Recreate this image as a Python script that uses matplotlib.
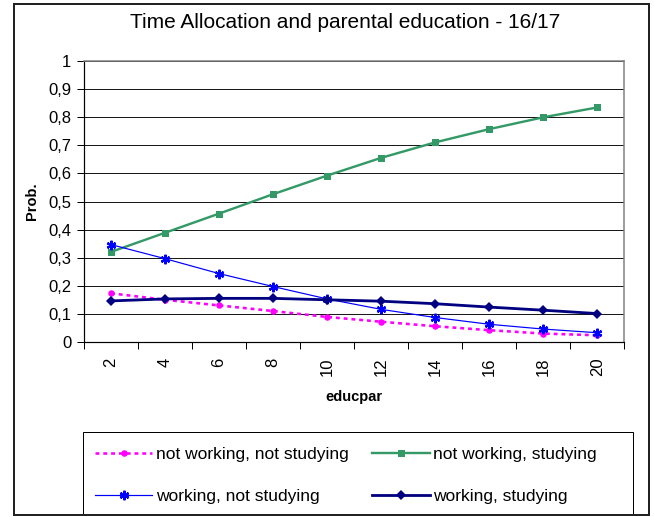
import matplotlib
matplotlib.use("Agg")
import matplotlib.pyplot as plt
from matplotlib.patches import Rectangle

plt.rcParams['font.family'] = ['Liberation Sans', 'DejaVu Sans']

# Data
educpar = [2, 4, 6, 8, 10, 12, 14, 16, 18, 20]
not_working_not_studying = [0.174, 0.151, 0.131, 0.111, 0.090, 0.073, 0.057, 0.043, 0.031, 0.025]
not_working_studying = [0.321, 0.389, 0.457, 0.526, 0.592, 0.655, 0.710, 0.757, 0.799, 0.834]
working_not_studying = [0.347, 0.297, 0.244, 0.198, 0.154, 0.117, 0.088, 0.064, 0.047, 0.034]
working_studying = [0.147, 0.154, 0.156, 0.156, 0.151, 0.146, 0.137, 0.125, 0.114, 0.102]
yticks = [0, 0.1, 0.2, 0.3, 0.4, 0.5, 0.6, 0.7, 0.8, 0.9, 1.0]
ytick_labels = ['0', '0,1', '0,2', '0,3', '0,4', '0,5', '0,6', '0,7', '0,8', '0,9', '1']

W, H = 654, 517
fig = plt.figure(figsize=(W / 100, H / 100), dpi=100)
px = 0.72  # one pixel in points

# Plot area in pixel coordinates
left, right, top, bottom = 84, 624.3, 60.7, 342.3
ax = fig.add_axes([left / W, 1 - bottom / H, (right - left) / W, (bottom - top) / H])

x = list(range(len(educpar)))

l1, = ax.plot(x, not_working_not_studying, color='#FF00FF', linestyle=(0, (1.5, 1.5)),
              linewidth=2.6 * px, marker='o', markersize=6.5 * px, markeredgewidth=0,
              label='not working, not studying', zorder=3)
l2, = ax.plot(x, not_working_studying, color='#339966', linewidth=2.4 * px,
              marker='s', markersize=7 * px, markeredgewidth=0,
              label='not working, studying', zorder=4)
l3, = ax.plot(x, working_not_studying, color='#0000FF', linewidth=1.2 * px,
              marker=(6, 2, 0), markersize=9.5 * px, markeredgewidth=2.2 * px,
              label='working, not studying', zorder=5)
l4, = ax.plot(x, working_studying, color='#000080', linewidth=2.8 * px,
              marker='D', markersize=7 * px, markeredgewidth=0,
              label='working, studying', zorder=6)

ax.set_xlim(-0.5, len(educpar) - 0.5)
ax.set_ylim(0, 1)

# Category axis: ticks between categories, labels centred on them
ax.set_xticks([i - 0.5 for i in range(len(educpar) + 1)])
ax.set_xticklabels([])
ax.set_xticks(x, minor=True)
ax.set_xticklabels([str(v) for v in educpar], minor=True, rotation=90, fontsize=12)
ax.tick_params(axis='x', which='major', direction='out', length=7 * px, width=1 * px, color='black')
ax.tick_params(axis='x', which='minor', length=0, pad=11)

ax.set_yticks(yticks)
ax.set_yticklabels(ytick_labels, fontsize=12)
ax.tick_params(axis='y', direction='out', length=7 * px, width=1 * px, pad=4)

ax.grid(axis='y', color='black', linewidth=0.9 * px, zorder=0)
ax.set_axisbelow(True)

for s in ['left', 'bottom']:
    ax.spines[s].set_color('black')
    ax.spines[s].set_linewidth(1.2 * px)
for s in ['top', 'right']:
    ax.spines[s].set_color('#808080')
    ax.spines[s].set_linewidth(1.5 * px)

ax.set_xlabel('educpar', fontsize=10.5, fontweight='bold', labelpad=10)
ax.set_ylabel('Prob.', fontsize=10.5, fontweight='bold', labelpad=7)

fig.text(345 / W, 1 - 22 / H, 'Time Allocation and parental education - 16/17',
         ha='center', va='center', fontsize=15)

# Legend frame
lx0, lx1, ly0, ly1 = 83, 633, 432, 514
fig.patches.append(Rectangle((lx0 / W, 1 - ly1 / H), (lx1 - lx0) / W, (ly1 - ly0) / H,
                             transform=fig.transFigure, fill=False,
                             edgecolor='black', linewidth=1.0 * px, zorder=9))

# Legend entries (filled row by row)
leg = fig.legend([l1, l3, l2, l4], [l1.get_label(), l3.get_label(), l2.get_label(), l4.get_label()],
                 loc='upper left', ncol=2,
                 bbox_to_anchor=(95 / W, 1 - 447 / H),
                 fontsize=12.5, frameon=False, handlelength=3.3, handletextpad=0.2,
                 labelspacing=1.52, borderpad=0, borderaxespad=0,
                 columnspacing=1.38)

# Outer chart frame
fig.patches.append(Rectangle((14 / W, 1 - 515 / H), (648.7 - 14) / W, (515 - 4) / H,
                             transform=fig.transFigure, fill=False,
                             edgecolor='#222222', linewidth=2 * px, zorder=10))

fig.savefig('out.png', dpi=100)
